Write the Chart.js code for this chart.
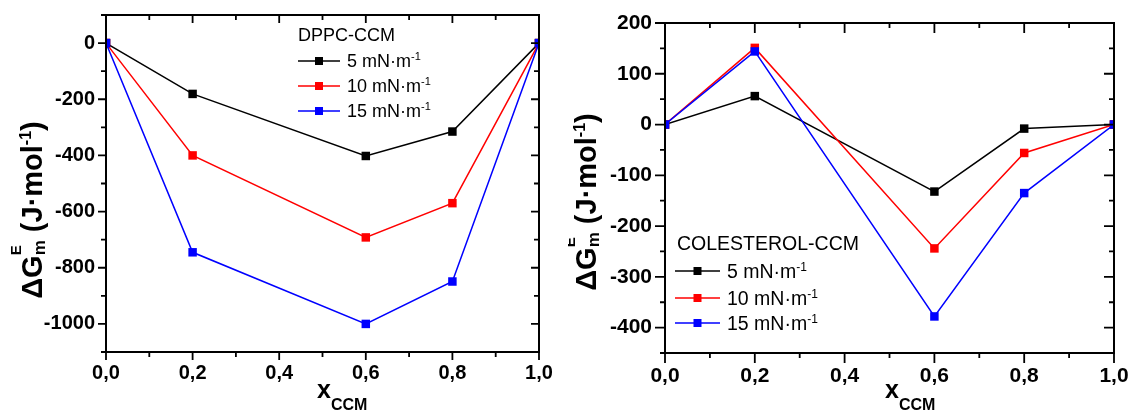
<!DOCTYPE html>
<html>
<head>
<meta charset="utf-8">
<script src="https://cdn.jsdelivr.net/npm/chart.js@4.4.1/dist/chart.umd.min.js"></script>
<style>
  html, body { margin: 0; padding: 0; background: #fff; }
  #wrap { position: relative; width: 1131px; height: 412px; overflow: hidden; }
  #left { position: absolute; left: 0; top: 0; }
  #right { position: absolute; left: 568px; top: 0; }
</style>
</head>
<body>
<div id="wrap">
  <canvas id="left" width="560" height="412"></canvas>
  <canvas id="right" width="563" height="412"></canvas>
</div>
<script>
/* =========================
   DATA
========================= */

const xccm = [0, 0.2, 0.6, 0.8, 1.0];
const pressures = ["5 mN·m", "10 mN·m", "15 mN·m"];
const lineColors = ["#000000", "#ff0000", "#0000ff"];

// DPPC-CCM
const dppc5 = [0, -181, -402, -315, 0];
const dppc10 = [0, -400, -692, -570, 0];
const dppc15 = [0, -745, -1000, -849, 0];

// COLESTEROL-CCM
const col5 = [0, 56, -132, -8, 0];
const col10 = [0, 151, -244, -56, 0];
const col15 = [0, 144, -378, -135, 0];

const xTicks = [0, 0.2, 0.4, 0.6, 0.8, 1.0];
const dppcYTicks = [0, -200, -400, -600, -800, -1000];
const colYTicks = [200, 100, 0, -100, -200, -300, -400];

const FONT = "'Liberation Sans', Arial, sans-serif";
Chart.defaults.color = "#000";
Chart.defaults.font.family = FONT;


/* =========================
   RICH TEXT (sup / sub)
========================= */

function setFont(ctx, p) {
  ctx.font = (p.bold ? "bold " : "") + p.size + "px " + FONT;
}

function richWidth(ctx, parts) {
  let w = 0, stackW = 0;
  parts.forEach(p => {
    setFont(ctx, p);
    const pw = ctx.measureText(p.text).width;
    if (p.stack) { stackW = pw; return; }
    w += Math.max(pw, stackW);
    stackW = 0;
  });
  return w;
}

function drawRich(ctx, parts, x, y) {
  let cx = x, stackW = 0;
  ctx.textAlign = "left";
  ctx.textBaseline = "alphabetic";
  parts.forEach(p => {
    setFont(ctx, p);
    ctx.fillText(p.text, cx, y + (p.dy || 0));
    const pw = ctx.measureText(p.text).width;
    if (p.stack) { stackW = pw; return; }
    cx += Math.max(pw, stackW);
    stackW = 0;
  });
}

const yTitleParts = [
  { text: "ΔG", size: 29, bold: true },
  { text: "E", size: 15, bold: true, dy: -21, stack: true },
  { text: "m", size: 17, bold: true, dy: 3 },
  { text: " (J·mol", size: 29, bold: true },
  { text: "-1", size: 16, bold: true, dy: -11 },
  { text: ")", size: 29, bold: true }
];

const xTitleParts = [
  { text: "x", size: 25, bold: true },
  { text: "CCM", size: 16, bold: true, dy: 12 }
];


/* =========================
   PLUGIN: frame, ticks, titles, legend
========================= */

function minorValues(majors, min, max) {
  const sorted = majors.slice().sort((a, b) => a - b);
  const half = (sorted[1] - sorted[0]) / 2;
  const out = [];
  for (let v = sorted[0] - half; v >= min - 1e-9; v -= 2 * half) out.push(v);
  sorted.forEach(v => { if (v + half <= max + 1e-9) out.push(v + half); });
  return out;
}

const decorPlugin = {
  id: "decor",
  afterDraw(chart, args, o) {
    const { ctx, chartArea: a, scales } = chart;
    const xs = scales.x, ys = scales.y;
    ctx.save();

    // frame
    ctx.strokeStyle = "#000";
    ctx.lineWidth = 2;
    ctx.strokeRect(a.left, a.top, a.right - a.left, a.bottom - a.top);

    // ticks: left/bottom outward, top/right inward
    ctx.lineWidth = 1.8;
    const major = o.major, minor = o.minor;
    const tickX = (v, len) => {
      const px = xs.getPixelForValue(v);
      ctx.beginPath();
      ctx.moveTo(px, a.bottom); ctx.lineTo(px, a.bottom + len);
      ctx.moveTo(px, a.top); ctx.lineTo(px, a.top + len);
      ctx.stroke();
    };
    const tickY = (v, len) => {
      const py = ys.getPixelForValue(v);
      ctx.beginPath();
      ctx.moveTo(a.left, py); ctx.lineTo(a.left - len, py);
      ctx.moveTo(a.right, py); ctx.lineTo(a.right - len, py);
      ctx.stroke();
    };
    xTicks.forEach(v => tickX(v, major));
    minorValues(xTicks, xs.min, xs.max).forEach(v => tickX(v, minor));
    o.yTicks.forEach(v => tickY(v, major));
    minorValues(o.yTicks, ys.min, ys.max).forEach(v => tickY(v, minor));

    // axis titles
    ctx.fillStyle = "#000";
    drawRich(ctx, xTitleParts, o.xTitle.x, o.xTitle.y);
    const w = richWidth(ctx, yTitleParts);
    ctx.save();
    ctx.translate(o.yTitle.x, o.yTitle.y);
    ctx.rotate(-Math.PI / 2);
    drawRich(ctx, yTitleParts, -w / 2, 0);
    ctx.restore();

    // legend
    const L = o.legend;
    drawRich(ctx, [{ text: L.title, size: L.size }], L.x, L.titleY);
    chart.data.datasets.forEach((ds, i) => {
      const ry = L.rows[i];
      ctx.strokeStyle = ds.borderColor;
      ctx.lineWidth = 1.5;
      ctx.beginPath();
      ctx.moveTo(L.lineX0, ry); ctx.lineTo(L.lineX1, ry);
      ctx.stroke();
      const m = (L.lineX0 + L.lineX1) / 2;
      ctx.fillStyle = ds.backgroundColor;
      ctx.fillRect(m - 4, ry - 4, 8, 8);
      ctx.fillStyle = "#000";
      drawRich(ctx, [
        { text: pressures[i], size: L.size },
        { text: "-1", size: Math.round(L.size * 0.62), dy: -7 }
      ], L.textX, ry + L.size * 0.36);
    });

    ctx.restore();
  }
};


/* =========================
   CHART BUILDER
========================= */

function buildChart(id, series, yMin, yMax, yTicks, look) {
  const datasets = series.map((vals, i) => ({
    label: pressures[i],
    data: xccm.map((x, k) => ({ x: x, y: vals[k] })),
    borderColor: lineColors[i],
    backgroundColor: lineColors[i],
    borderWidth: 1.5,
    pointStyle: "rect",
    pointRadius: 6,
    pointBorderWidth: 0,
    tension: 0,
    order: 3 - i
  }));

  return new Chart(document.getElementById(id), {
    type: "line",
    data: { datasets },
    options: {
      responsive: false,
      animation: false,
      devicePixelRatio: 1,
      layout: { padding: look.padding },
      plugins: {
        legend: { display: false },
        tooltip: { enabled: false },
        decor: {
          major: look.major,
          minor: look.minor,
          yTicks: yTicks,
          xTitle: look.xTitle,
          yTitle: look.yTitle,
          legend: look.legend
        }
      },
      scales: {
        x: {
          type: "linear",
          min: 0,
          max: 1,
          afterBuildTicks: s => { s.ticks = xTicks.map(v => ({ value: v })); },
          afterFit: s => { s.height = look.xHeight; },
          grid: { drawOnChartArea: false, tickLength: look.major, tickColor: "rgba(0,0,0,0)" },
          border: { display: false },
          ticks: {
            autoSkip: false,
            maxRotation: 0,
            padding: 1,
            font: { size: look.tickSize, weight: "bold" },
            callback: v => v.toFixed(1).replace(".", ",")
          }
        },
        y: {
          min: yMin,
          max: yMax,
          afterBuildTicks: s => { s.ticks = yTicks.map(v => ({ value: v })); },
          afterFit: s => { s.width = look.yWidth; },
          grid: { drawOnChartArea: false, tickLength: look.major, tickColor: "rgba(0,0,0,0)" },
          border: { display: false },
          ticks: {
            padding: 3,
            font: { size: look.tickSize, weight: "bold" },
            callback: v => String(v)
          }
        }
      }
    },
    plugins: [decorPlugin]
  });
}

buildChart("left", [dppc5, dppc10, dppc15], -1100, 100, dppcYTicks, {
  padding: { top: 14, right: 21, left: 0, bottom: 0 },
  yWidth: 106,
  xHeight: 60,
  major: 8,
  minor: 5,
  tickSize: 20,
  xTitle: { x: 317, y: 398 },
  yTitle: { x: 42, y: 210 },
  legend: {
    title: "DPPC-CCM", size: 18, x: 298, titleY: 41,
    rows: [61, 86, 111], lineX0: 298, lineX1: 340, textX: 347
  }
});

buildChart("right", [col5, col10, col15], -450, 200, colYTicks, {
  padding: { top: 23, right: 17, left: 0, bottom: 0 },
  yWidth: 97,
  xHeight: 59,
  major: 10,
  minor: 5,
  tickSize: 21,
  xTitle: { x: 317, y: 398 },
  yTitle: { x: 28, y: 202 },
  legend: {
    title: "COLESTEROL-CCM", size: 19.5, x: 109, titleY: 250,
    rows: [271, 298, 323], lineX0: 107, lineX1: 152, textX: 159
  }
});
</script>
</body>
</html>
